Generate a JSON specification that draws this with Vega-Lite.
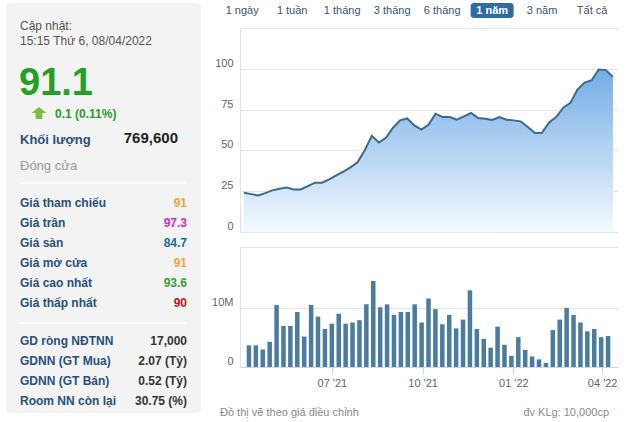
{
  "$schema": "https://vega.github.io/schema/vega-lite/v6.json",
  "padding": {"left": 6, "top": 3, "right": 4, "bottom": 2},
  "background": "white",
  "config": {
    "font": "Liberation Sans",
    "view": {"stroke": null},
    "axis": {"labelFont": "Liberation Sans", "labelFontSize": 11, "labelColor": "#666666", "title": null, "gridColor": "#e6e6e6", "domainColor": "#dfe4ea", "tickColor": "#ccd6eb"}
  },
  "datasets": {
    "weekly": [
      {"d": "2021-04-08", "p": 24.0, "v": 3700000},
      {"d": "2021-04-15", "p": 23.2, "v": 3700000},
      {"d": "2021-04-22", "p": 22.4, "v": 3000000},
      {"d": "2021-04-29", "p": 23.8, "v": 4300000},
      {"d": "2021-05-06", "p": 25.5, "v": 10600000},
      {"d": "2021-05-13", "p": 26.5, "v": 7000000},
      {"d": "2021-05-20", "p": 27.3, "v": 7000000},
      {"d": "2021-05-27", "p": 26.1, "v": 9400000},
      {"d": "2021-06-03", "p": 26.1, "v": 5200000},
      {"d": "2021-06-10", "p": 28.1, "v": 10600000},
      {"d": "2021-06-17", "p": 30.2, "v": 8600000},
      {"d": "2021-06-24", "p": 30.2, "v": 6500000},
      {"d": "2021-07-01", "p": 32.2, "v": 7400000},
      {"d": "2021-07-08", "p": 34.7, "v": 9100000},
      {"d": "2021-07-15", "p": 37.0, "v": 7400000},
      {"d": "2021-07-22", "p": 39.6, "v": 7600000},
      {"d": "2021-07-29", "p": 42.7, "v": 8000000},
      {"d": "2021-08-05", "p": 49.9, "v": 10700000},
      {"d": "2021-08-12", "p": 58.9, "v": 14700000},
      {"d": "2021-08-19", "p": 54.8, "v": 10200000},
      {"d": "2021-08-26", "p": 57.7, "v": 10700000},
      {"d": "2021-09-02", "p": 63.9, "v": 8900000},
      {"d": "2021-09-09", "p": 68.4, "v": 9400000},
      {"d": "2021-09-16", "p": 69.6, "v": 9400000},
      {"d": "2021-09-23", "p": 65.3, "v": 10700000},
      {"d": "2021-09-30", "p": 62.8, "v": 7600000},
      {"d": "2021-10-07", "p": 65.7, "v": 11700000},
      {"d": "2021-10-14", "p": 72.5, "v": 9900000},
      {"d": "2021-10-21", "p": 70.4, "v": 7300000},
      {"d": "2021-10-28", "p": 70.4, "v": 8900000},
      {"d": "2021-11-04", "p": 68.8, "v": 6600000},
      {"d": "2021-11-11", "p": 70.8, "v": 8100000},
      {"d": "2021-11-18", "p": 72.9, "v": 13100000},
      {"d": "2021-11-25", "p": 69.8, "v": 6500000},
      {"d": "2021-12-02", "p": 69.4, "v": 4800000},
      {"d": "2021-12-09", "p": 68.6, "v": 3300000},
      {"d": "2021-12-16", "p": 70.4, "v": 6900000},
      {"d": "2021-12-23", "p": 68.8, "v": 3800000},
      {"d": "2021-12-30", "p": 68.4, "v": 1900000},
      {"d": "2022-01-06", "p": 67.8, "v": 5100000},
      {"d": "2022-01-13", "p": 64.3, "v": 2900000},
      {"d": "2022-01-20", "p": 60.6, "v": 1800000},
      {"d": "2022-01-27", "p": 60.8, "v": 1300000},
      {"d": "2022-02-03", "p": 67.1, "v": 700000},
      {"d": "2022-02-10", "p": 70.4, "v": 6300000},
      {"d": "2022-02-17", "p": 76.2, "v": 8100000},
      {"d": "2022-02-24", "p": 79.1, "v": 10100000},
      {"d": "2022-03-03", "p": 87.3, "v": 8900000},
      {"d": "2022-03-10", "p": 91.6, "v": 7600000},
      {"d": "2022-03-17", "p": 93.0, "v": 6100000},
      {"d": "2022-03-24", "p": 99.6, "v": 6500000},
      {"d": "2022-03-31", "p": 99.2, "v": 5100000},
      {"d": "2022-04-07", "p": 95.1, "v": 5300000}
    ],
    "table": [
      {"key": "ref", "label": "Giá tham chiếu", "value": "91", "grp": "a"},
      {"key": "ceil", "label": "Giá trần", "value": "97.3", "grp": "a"},
      {"key": "floor", "label": "Giá sàn", "value": "84.7", "grp": "a"},
      {"key": "open", "label": "Giá mở cửa", "value": "91", "grp": "a"},
      {"key": "high", "label": "Giá cao nhất", "value": "93.6", "grp": "a"},
      {"key": "low", "label": "Giá thấp nhất", "value": "90", "grp": "a"},
      {"key": "net", "label": "GD ròng NĐTNN", "value": "17,000", "grp": "b"},
      {"key": "buy", "label": "GDNN (GT Mua)", "value": "2.07 (Tỷ)", "grp": "b"},
      {"key": "sell", "label": "GDNN (GT Bán)", "value": "0.52 (Tỷ)", "grp": "b"},
      {"key": "room", "label": "Room NN còn lại", "value": "30.75 (%)", "grp": "b"}
    ],
    "tabs": [
      {"b": "1 ngày"}, {"b": "1 tuần"}, {"b": "1 tháng"}, {"b": "3 tháng"},
      {"b": "6 tháng"}, {"b": "1 năm"}, {"b": "3 năm"}, {"b": "Tất cả"}
    ]
  },
  "spacing": 39,
  "bounds": "flush",
  "hconcat": [
    {
      "width": 195,
      "height": 410,
      "view": {"fill": "#f3f3f3", "stroke": null, "cornerRadius": 4},
      "encoding": {
        "y": {"field": "key", "type": "nominal", "axis": null,
          "scale": {"type": "point", "padding": 0, "range": [0, 400],
            "domain": ["top", "update", "k2", "k3", "price", "change", "k6", "vol", "close", "sep1", "ref", "ceil", "floor", "open", "high", "low", "sep2", "net", "buy", "sell", "room"]}},
        "x": {"datum": "L", "type": "nominal", "axis": null,
          "scale": {"type": "point", "padding": 0, "domain": ["L", "R"], "range": [14, 181]}}
      },
      "layer": [
        {
          "data": {"values": [{"key": "sep1"}, {"key": "sep2"}]},
          "mark": {"type": "rule", "color": "#ffffff", "strokeWidth": 1.5},
          "encoding": {"x2": {"datum": "R"}}
        },
        {
          "data": {"values": [{"key": "update", "t": "Cập nhật:\n15:15 Thứ 6, 08/04/2022"}]},
          "mark": {"type": "text", "align": "left", "baseline": "middle", "fontSize": 12, "color": "#555555", "lineBreak": "\n", "lineHeight": 15, "dy": 3},
          "encoding": {"text": {"field": "t"}}
        },
        {
          "data": {"values": [{"key": "price", "t": "91.1"}]},
          "mark": {"type": "text", "align": "left", "baseline": "middle", "fontSize": 38, "fontWeight": "bold", "color": "#25a025", "dy": 0.5, "dx": -1},
          "encoding": {"text": {"field": "t"}}
        },
        {
          "data": {"values": [{"key": "change"}]},
          "mark": {"type": "point", "filled": true, "opacity": 1, "color": "#7dbe3b", "size": 225,
            "shape": "M2.53,0.53L3.53,1.33L2.98,1.33L2.98,2.13L2.08,2.13L2.08,1.33L1.53,1.33Z"}
        },
        {
          "data": {"values": [{"key": "change", "t": "0.1 (0.11%)"}]},
          "mark": {"type": "text", "align": "left", "baseline": "middle", "fontSize": 12, "fontWeight": "bold", "color": "#2e9a2e", "dx": 35, "dy": 10.5},
          "encoding": {"text": {"field": "t"}}
        },
        {
          "data": {"values": [{"key": "vol", "t": "Khối lượng"}]},
          "mark": {"type": "text", "align": "left", "baseline": "middle", "fontSize": 13, "fontWeight": "bold", "color": "#28507d", "dy": -3},
          "encoding": {"text": {"field": "t"}}
        },
        {
          "data": {"values": [{"key": "vol", "t": "769,600"}]},
          "mark": {"type": "text", "align": "right", "baseline": "middle", "fontSize": 15, "fontWeight": "bold", "color": "#222222", "dx": -9, "dy": -5},
          "encoding": {"text": {"field": "t"}, "x": {"datum": "R"}}
        },
        {
          "data": {"values": [{"key": "close", "t": "Đóng cửa"}]},
          "mark": {"type": "text", "align": "left", "baseline": "middle", "fontSize": 13, "color": "#999999", "dy": 3},
          "encoding": {"text": {"field": "t"}}
        },
        {
          "data": {"name": "table"},
          "transform": [{"filter": "datum.grp == 'a'"}],
          "mark": {"type": "text", "align": "left", "baseline": "middle", "fontSize": 12, "fontWeight": "bold", "color": "#28507d"},
          "encoding": {"text": {"field": "label"}}
        },
        {
          "data": {"name": "table"},
          "transform": [{"filter": "datum.grp == 'b'"}],
          "mark": {"type": "text", "align": "left", "baseline": "middle", "fontSize": 12, "fontWeight": "bold", "color": "#28507d", "dy": -2.4},
          "encoding": {"text": {"field": "label"}}
        },
        {
          "data": {"name": "table"},
          "transform": [{"filter": "datum.grp == 'a'"}],
          "mark": {"type": "text", "align": "right", "baseline": "middle", "fontSize": 12, "fontWeight": "bold"},
          "encoding": {
            "text": {"field": "value"},
            "x": {"datum": "R"},
            "color": {"field": "key", "type": "nominal", "legend": null,
              "scale": {"domain": ["ref", "ceil", "floor", "open", "high", "low", "net", "buy", "sell", "room"],
                "range": ["#f0a43a", "#d02bc8", "#1c6c8e", "#f0a43a", "#3a9e3a", "#c3161c", "#333333", "#333333", "#333333", "#333333"]}}
          }
        },
        {
          "data": {"name": "table"},
          "transform": [{"filter": "datum.grp == 'b'"}],
          "mark": {"type": "text", "align": "right", "baseline": "middle", "fontSize": 12, "fontWeight": "bold", "dy": -2.4},
          "encoding": {
            "text": {"field": "value"},
            "x": {"datum": "R"},
            "color": {"field": "key", "type": "nominal", "legend": null}
          }
        }
      ]
    },
    {
      "spacing": 10,
      "bounds": "flush",
      "vconcat": [
        {
          "width": 378,
          "height": 15,
          "data": {"name": "tabs"},
          "encoding": {
            "x": {"field": "b", "type": "nominal", "axis": null,
              "scale": {"type": "band", "domain": ["1 ngày", "1 tuần", "1 tháng", "3 tháng", "6 tháng", "1 năm", "3 năm", "Tất cả"],
                "range": [-19.3, 373.6], "paddingInner": 0.1397, "paddingOuter": 0}}
          },
          "layer": [
            {
              "transform": [{"filter": "datum.b == '1 năm'"}],
              "mark": {"type": "rect", "color": "#2d6ca5", "cornerRadius": 3}
            },
            {
              "transform": [{"filter": "datum.b != '1 năm'"}],
              "mark": {"type": "text", "fontSize": 11, "color": "#3b5573", "baseline": "middle"},
              "encoding": {"text": {"field": "b"}}
            },
            {
              "transform": [{"filter": "datum.b == '1 năm'"}],
              "mark": {"type": "text", "fontSize": 11, "fontWeight": "bold", "color": "#ffffff", "baseline": "middle"},
              "encoding": {"text": {"field": "b"}}
            }
          ]
        },
        {
          "spacing": 15,
          "bounds": "flush",
          "vconcat": [
            {
              "width": 378,
              "height": 204,
              "data": {"name": "weekly"},
              "encoding": {
                "x": {"field": "d", "type": "temporal", "axis": null,
                  "scale": {"type": "utc", "domain": [{"year": 2021, "month": 4, "date": 4, "utc": true}, {"year": 2022, "month": 4, "date": 12, "utc": true}]}},
                "y": {"field": "p", "type": "quantitative",
                  "scale": {"domain": [0, 125], "nice": false},
                  "axis": {"values": [0, 25, 50, 75, 100, 125], "labelExpr": "datum.value == 125 ? '' : datum.label", "ticks": false, "labelPadding": 7, "labelOffset": -5.5, "grid": true, "domain": true}}
              },
              "layer": [
                {
                  "mark": {"type": "area", "opacity": 1,
                    "color": {"gradient": "linear", "x1": 0, "y1": 0, "x2": 0, "y2": 1,
                      "stops": [{"offset": 0, "color": "#74ace5"}, {"offset": 1, "color": "#f5faff"}]}}
                },
                {
                  "mark": {"type": "line", "color": "#3a6a8f", "strokeWidth": 2}
                }
              ]
            },
            {
              "width": 378,
              "height": 120,
              "data": {"name": "weekly"},
              "mark": {"type": "bar", "color": "#4a7ba0", "size": 4.5},
              "encoding": {
                "x": {"field": "d", "type": "temporal",
                  "scale": {"type": "utc", "domain": [{"year": 2021, "month": 4, "date": 4, "utc": true}, {"year": 2022, "month": 4, "date": 12, "utc": true}]},
                  "axis": {"values": [{"year": 2021, "month": 7, "date": 1, "utc": true}, {"year": 2021, "month": 10, "date": 1, "utc": true}, {"year": 2022, "month": 1, "date": 1, "utc": true}, {"year": 2022, "month": 4, "date": 1, "utc": true}],
                    "labelExpr": "utcFormat(datum.value, \"%m '%y\")", "ticks": true, "tickSize": 7, "grid": false, "domain": true, "domainColor": "#ccd6eb", "labelPadding": 3, "labelFlush": false}},
                "y": {"field": "v", "type": "quantitative",
                  "scale": {"domain": [0, 20500000], "nice": false},
                  "axis": {"values": [0, 10000000, 20500000], "labelExpr": "datum.value == 0 ? '0' : datum.value == 10000000 ? '10M' : ''", "ticks": false, "labelPadding": 7, "labelOffset": -5.5, "grid": true, "domain": true}}
              }
            },
            {
              "width": 378,
              "height": 20,
              "data": {"values": [{"k": "a", "t": "Đồ thị vẽ theo giá điều chỉnh"}, {"k": "b", "t": "đv KLg: 10,000cp"}]},
              "encoding": {
                "x": {"field": "k", "type": "nominal", "axis": null,
                  "scale": {"type": "point", "padding": 0, "domain": ["a", "b"], "range": [-20, 369]}},
                "text": {"field": "t"}
              },
              "layer": [
                {
                  "transform": [{"filter": "datum.k == 'a'"}],
                  "mark": {"type": "text", "align": "left", "baseline": "middle", "fontSize": 11, "color": "#888888", "dy": 21}
                },
                {
                  "transform": [{"filter": "datum.k == 'b'"}],
                  "mark": {"type": "text", "align": "right", "baseline": "middle", "fontSize": 11, "color": "#888888", "dy": 21}
                }
              ]
            }
          ]
        }
      ]
    }
  ]
}
